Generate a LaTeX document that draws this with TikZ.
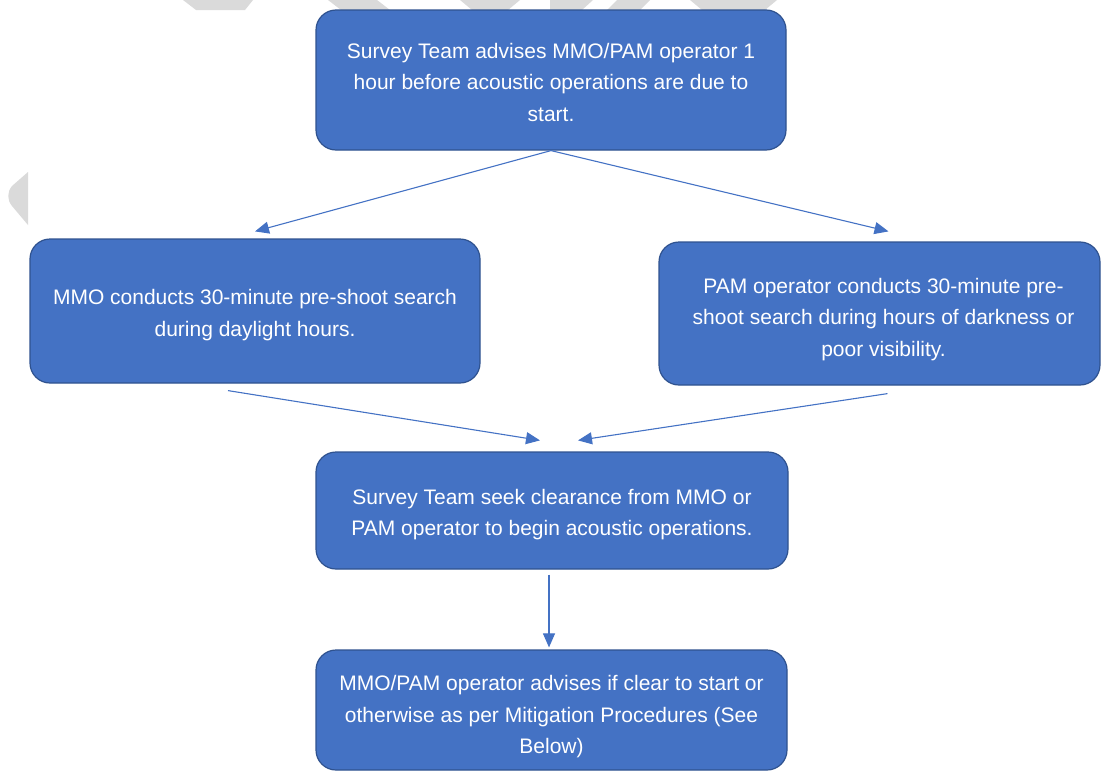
\documentclass[tikz,border=0pt]{standalone}
\usepackage{fontspec}
\setmainfont{Liberation Sans}
\usetikzlibrary{arrows.meta}
\definecolor{boxblue}{HTML}{4472C4}
\definecolor{boxedge}{HTML}{2F528F}
\definecolor{wmgray}{HTML}{DADADA}
\tikzset{
  flowbox/.style={draw=boxedge, line width=1.2pt, fill=boxblue, rounded corners=20pt, inner sep=0pt},
  boxtext/.style={text=white, align=center, inner sep=0pt,
    font=\fontsize{21}{31.5}\selectfont},
  flowarrow/.style={draw=boxblue, line width=1.1pt, -{Triangle[length=14pt,width=12pt]}},
  wmark/.style={fill=wmgray, draw=none}
}
\begin{document}
\begin{tikzpicture}[x=1pt,y=-1pt]
\useasboundingbox (0,0) rectangle (1102,771);
% watermark fragments
\fill[wmark] (183,0) -- (253,0) -- (245,10) -- (196,10) -- cycle;
\fill[wmark] (328,0) -- (377,0) -- (390,10) -- (341,10) -- cycle;
\fill[wmark] (460,0) -- (520,0) -- (508,10) -- (472,10) -- cycle;
\fill[wmark] (550,0) -- (593,0) -- (582,10) -- (550,10) -- cycle;
\fill[wmark] (617,0) -- (650,0) -- (640,10) -- (607,10) -- cycle;
\fill[wmark] (690,0) -- (777,0) -- (765,10) -- (702,10) -- cycle;
\fill[wmark] (28,172) -- (28,225) -- (12,206) .. controls (7,200) and (7,192) .. (12,186) -- cycle;

\node[flowbox, minimum width=470pt, minimum height=140pt,
  label={[boxtext, yshift=-2pt]center:{Survey Team advises MMO/PAM operator 1\\hour before acoustic operations are due to\\start.}}] (top) at (551,80) {};
\node[flowbox, minimum width=450pt, minimum height=144pt,
  label={[boxtext, yshift=-4pt]center:{MMO conducts 30-minute pre-shoot search\\during daylight hours.}}] (left) at (255,311) {};
\node[flowbox, minimum width=441pt, minimum height=143pt,
  label={[boxtext, xshift=4pt, yshift=-6pt]center:{PAM operator conducts 30-minute pre-\\shoot search during hours of darkness or\\poor visibility.}}] (right) at (879.5,313.5) {};
\node[flowbox, minimum width=472pt, minimum height=117pt,
  label={[boxtext, yshift=-4pt]center:{Survey Team seek clearance from MMO or\\PAM operator to begin acoustic operations.}}] (mid) at (552,510.5) {};
\node[flowbox, minimum width=471pt, minimum height=120pt,
  label={[boxtext, yshift=-7pt]center:{MMO/PAM operator advises if clear to start or\\otherwise as per Mitigation Procedures (See\\Below)}}] (bot) at (551.5,710) {};

\draw[flowarrow] (top.south) -- ([yshift=7pt]left.north);
\draw[flowarrow] (top.south) -- ([xshift=9pt,yshift=10pt]right.north);
\draw[flowarrow] ([xshift=-27pt,yshift=-7pt]left.south) -- ([xshift=-12pt,yshift=11pt]mid.north);
\draw[flowarrow] ([xshift=8pt,yshift=-8pt]right.south) -- ([xshift=26pt,yshift=11pt]mid.north);
\draw[flowarrow] ([xshift=-3pt,yshift=-5pt]mid.south) -- ([xshift=-2.5pt,yshift=2pt]bot.north);
\end{tikzpicture}
\end{document}
